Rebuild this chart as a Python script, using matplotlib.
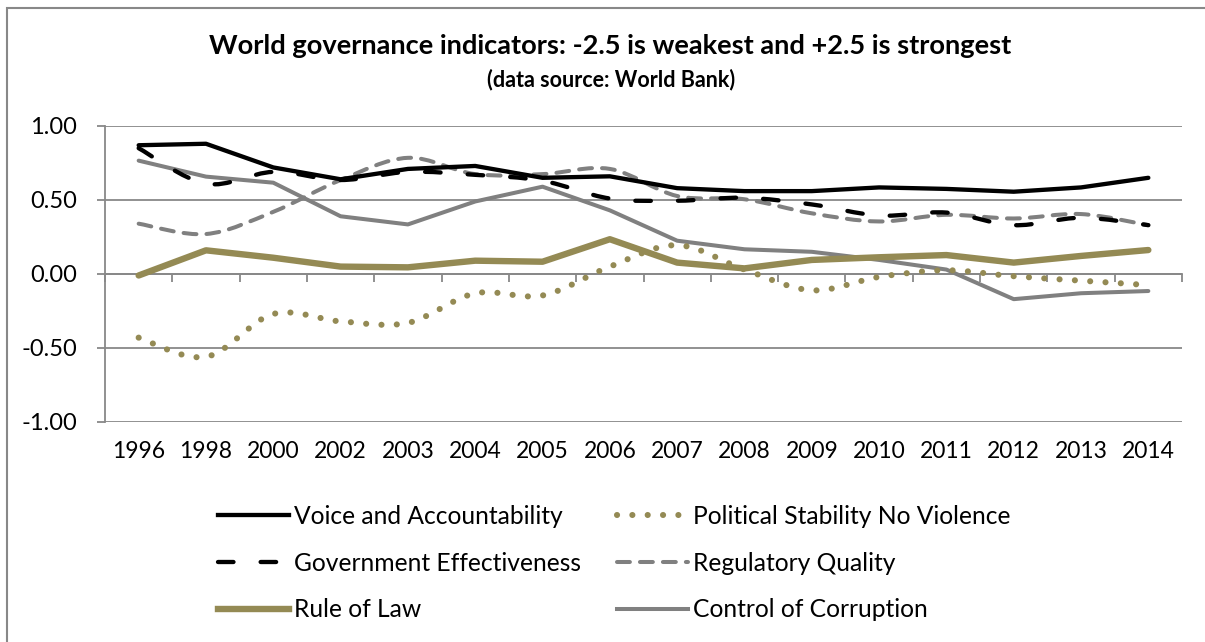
import numpy as np
import matplotlib.pyplot as plt
from matplotlib.path import Path
from matplotlib.patches import PathPatch, Rectangle
from matplotlib.lines import Line2D

plt.rcParams['font.family'] = ['Lato', 'DejaVu Sans']

years = ['1996', '1998', '2000', '2002', '2003', '2004', '2005', '2006',
         '2007', '2008', '2009', '2010', '2011', '2012', '2013', '2014']

voice = [0.87, 0.88, 0.72, 0.64, 0.71, 0.73, 0.65, 0.66,
         0.58, 0.56, 0.56, 0.585, 0.575, 0.556, 0.585, 0.65]
stability = [-0.43, -0.56, -0.27, -0.32, -0.33, -0.13, -0.145, 0.05,
             0.195, 0.03, -0.11, -0.02, 0.025, -0.015, -0.045, -0.075]
effectiveness = [0.85, 0.61, 0.69, 0.635, 0.69, 0.67, 0.63, 0.51,
                 0.495, 0.515, 0.47, 0.395, 0.415, 0.33, 0.38, 0.33]
regulatory = [0.34, 0.27, 0.42, 0.635, 0.785, 0.675, 0.675, 0.71,
              0.527, 0.505, 0.41, 0.355, 0.40, 0.375, 0.405, 0.33]
rule_of_law = [-0.01, 0.16, 0.11, 0.05, 0.045, 0.09, 0.083, 0.235,
               0.077, 0.038, 0.095, 0.113, 0.128, 0.077, 0.122, 0.162]
corruption = [0.766, 0.658, 0.617, 0.39, 0.335, 0.49, 0.59, 0.43,
              0.225, 0.167, 0.15, 0.095, 0.03, -0.17, -0.13, -0.115]

OLIVE = '#948a54'
GREY = '#808080'
GRID = '#888888'


def smooth_path(values):
    # cubic bezier through the points, Excel-style smoothed line
    pts = np.column_stack([np.arange(len(values)), values]).astype(float)
    n = len(pts)
    verts = [pts[0]]
    codes = [Path.MOVETO]
    for i in range(n - 1):
        p0 = pts[max(i - 1, 0)]
        p1 = pts[i]
        p2 = pts[i + 1]
        p3 = pts[min(i + 2, n - 1)]
        verts += [p1 + (p2 - p0) / 6, p2 - (p3 - p1) / 6, p2]
        codes += [Path.CURVE4] * 3
    return Path(verts, codes)


W, H = 1205, 642
fig = plt.figure(figsize=(W / 100, H / 100), dpi=100)
ax = fig.add_axes([105 / W, (H - 422) / H, (1182 - 105) / W, (422 - 126) / H])

x = np.arange(len(years))

# straight series
ax.plot(x, corruption, color=GREY, lw=2.9, solid_capstyle='round', zorder=3)
ax.plot(x, rule_of_law, color=OLIVE, lw=4.6, solid_capstyle='round', zorder=3)
ax.plot(x, voice, color='black', lw=3.1, solid_capstyle='round', zorder=4)

# smoothed series
styles = [
    (stability, OLIVE, 4.4, (0, (0.01, 2.5))),
    (regulatory, GREY, 2.9, (0, (3.2, 2.5))),
    (effectiveness, 'black', 3.1, (0, (3.6, 6.3))),
]
for vals, col, lw, ls in styles:
    patch = PathPatch(smooth_path(vals), fill=False, edgecolor=col, lw=lw,
                      linestyle=ls, capstyle='round', joinstyle='round', zorder=3)
    ax.add_patch(patch)

ax.set_xlim(-0.5, len(years) - 0.5)
ax.set_ylim(-1, 1)
ax.set_yticks([-1, -0.5, 0, 0.5, 1])
ax.set_yticklabels(['-1.00', '-0.50', '0.00', '0.50', '1.00'])
ax.yaxis.grid(True, color=GRID, lw=1.3)
ax.set_axisbelow(True)

for side in ['top', 'right']:
    ax.spines[side].set_visible(False)
ax.spines['left'].set_color(GRID)
ax.spines['left'].set_linewidth(1.3)
ax.spines['bottom'].set_position(('data', 0))
ax.spines['bottom'].set_color(GRID)
ax.spines['bottom'].set_linewidth(1.3)

ax.tick_params(axis='y', direction='out', length=6, width=1.3, color=GRID,
               labelsize=17, pad=14)
ax.set_xticks(np.arange(len(years) + 1) - 0.5)
ax.set_xticklabels([])
ax.tick_params(axis='x', direction='out', length=6, width=1.3, color=GRID)

# year labels below the plot area
for i, yr in enumerate(years):
    ax.text(i, -1.0 - 30 / 148, yr, ha='center', va='center', fontsize=16.5,
            transform=ax.transData)

fig.text(610 / W, 1 - 46 / H, 'World governance indicators: -2.5 is weakest and +2.5 is strongest',
         ha='center', va='center', fontsize=19.6, fontweight='bold')
fig.text(611 / W, 1 - 80 / H, '(data source: World Bank)',
         ha='center', va='center', fontsize=15.5, fontweight='bold')

# legend entries in column order (left column first, then right)
handles = [
    Line2D([], [], color='black', lw=3.1),
    Line2D([], [], color='black', lw=3.1, ls=(0, (3.6, 6.3)), dash_capstyle='round'),
    Line2D([], [], color=OLIVE, lw=4.6),
    Line2D([], [], color=OLIVE, lw=4.4, ls=(0, (0.01, 2.5)), dash_capstyle='round'),
    Line2D([], [], color=GREY, lw=2.9, ls=(0, (3.2, 2.5)), dash_capstyle='round'),
    Line2D([], [], color=GREY, lw=2.9),
]
labels = ['Voice and Accountability', 'Government Effectiveness', 'Rule of Law',
          'Political Stability No Violence', 'Regulatory Quality',
          'Control of Corruption']
fig.legend(handles, labels, ncol=2, loc='upper left',
           bbox_to_anchor=(218 / W, 1 - 505 / H), frameon=False,
           fontsize=17.7, handlelength=2.9, handletextpad=0.2,
           columnspacing=1.45, labelspacing=0.96, borderaxespad=0,
           borderpad=0)

# outer chart frame
fig.add_artist(Rectangle((6.5 / W, -0.1), 1.2, (H - 7.5) / H + 0.1,
                         transform=fig.transFigure, fill=False,
                         edgecolor=GRID, lw=1.5))

fig.savefig('out.png', dpi=100)
